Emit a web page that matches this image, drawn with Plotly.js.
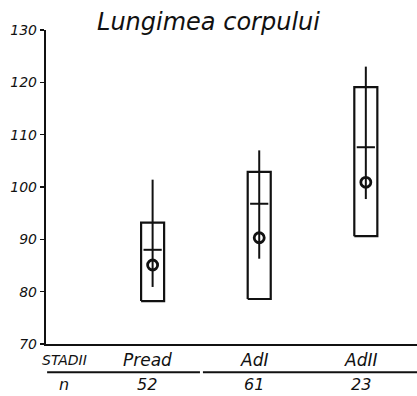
<!DOCTYPE html>
<html><head><meta charset="utf-8">
<script src="https://cdn.plot.ly/plotly-3.0.1.min.js"></script>
<style>body{margin:0;background:#fff}#c{width:417px;height:396px}</style>
</head><body><div id="c"></div>
<script>
const categories = ['Pread', 'AdI', 'AdII'];
const nValues = ['52', '61', '23'];
const positions = [1, 2, 3];
const boxLow = [78.2, 78.6, 90.6];
const boxHigh = [93.2, 102.9, 119.1];
const lineLow = [80.9, 86.3, 97.7];
const lineHigh = [101.4, 107.0, 123.0];
const meanValues = [88.0, 96.8, 107.6];
const circleValues = [85.1, 90.3, 100.9];
const yTicks = [70, 80, 90, 100, 110, 120, 130];

const ink = '#111111';
const halfW = 0.108;
const fnt = {family: 'DejaVu Sans', color: ink, style: 'italic'};

const traces = [];
// boxes
const bx = [], by = [];
positions.forEach((p, i) => {
  bx.push(p - halfW, p + halfW, p + halfW, p - halfW, p - halfW, null);
  by.push(boxLow[i], boxLow[i], boxHigh[i], boxHigh[i], boxLow[i], null);
});
traces.push({x: bx, y: by, mode: 'lines', line: {color: ink, width: 2.2}, hoverinfo: 'skip'});
// vertical lines
const lx = [], ly = [];
positions.forEach((p, i) => { lx.push(p, p, null); ly.push(lineLow[i], lineHigh[i], null); });
traces.push({x: lx, y: ly, mode: 'lines', line: {color: ink, width: 2}});
// mean cross
traces.push({x: positions, y: meanValues, mode: 'markers',
  marker: {symbol: 'line-ew', size: 13, line: {color: ink, width: 2}}});
// circles
traces.push({x: positions, y: circleValues, mode: 'markers',
  marker: {symbol: 'circle-open', size: 10, color: ink, line: {color: ink, width: 2.8}}});

const annotations = [];
categories.forEach((c, i) => {
  annotations.push({x: positions[i] - 0.05, y: -0.05, xref: 'x', yref: 'paper', text: c, showarrow: false,
    font: Object.assign({size: 17}, fnt), yanchor: 'middle'});
  annotations.push({x: positions[i] - 0.05, y: -0.13, xref: 'x', yref: 'paper', text: nValues[i], showarrow: false,
    font: Object.assign({size: 16}, fnt), yanchor: 'middle'});
});
annotations.push({x: 0.17, y: -0.05, xref: 'x', yref: 'paper', text: 'STADII', showarrow: false,
  font: Object.assign({size: 14}, fnt), yanchor: 'middle'});
annotations.push({x: 0.17, y: -0.13, xref: 'x', yref: 'paper', text: 'n', showarrow: false,
  font: Object.assign({size: 16}, fnt), yanchor: 'middle'});

const layout = {
  width: 417, height: 396,
  margin: {l: 46, r: 0, t: 30, b: 52},
  paper_bgcolor: '#fff', plot_bgcolor: '#fff',
  showlegend: false,
  title: {text: 'Lungimea corpului', x: 0.5, xref: 'container', xanchor: 'center', y: 0.945, yanchor: 'middle',
    font: Object.assign({size: 24}, fnt)},
  xaxis: {range: [0, 3.48], showgrid: false, zeroline: false, showticklabels: false, ticks: '',
    showline: true, linecolor: ink, linewidth: 2.2},
  yaxis: {range: [70, 130], tickvals: yTicks, showgrid: false, zeroline: false,
    showline: true, linecolor: ink, linewidth: 2.2, ticks: 'outside', ticklen: 4, tickwidth: 1.5, tickcolor: ink,
    tickfont: Object.assign({size: 14}, fnt)},
  annotations: annotations,
  shapes: [
    {type: 'line', xref: 'paper', yref: 'paper', x0: 0.003, x1: 0.415, y0: -0.09, y1: -0.09, line: {color: ink, width: 2}},
    {type: 'line', xref: 'paper', yref: 'paper', x0: 0.423, x1: 1, y0: -0.09, y1: -0.09, line: {color: ink, width: 2}}
  ]
};
Plotly.newPlot('c', traces, layout, {displayModeBar: false, staticPlot: true});
</script></body></html>
